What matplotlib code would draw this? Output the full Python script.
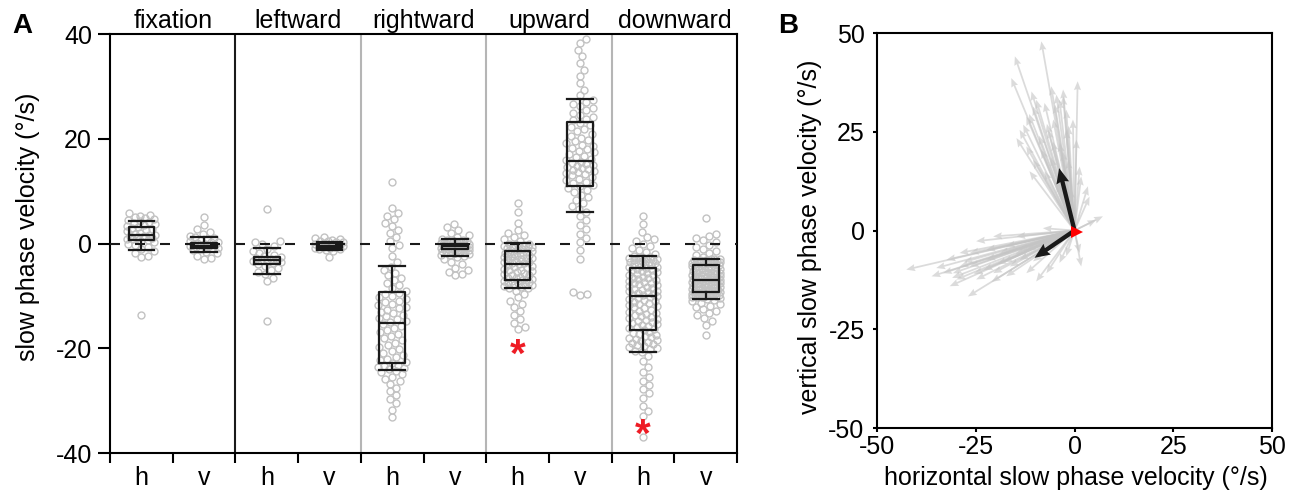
import numpy as np
import matplotlib
matplotlib.use("Agg")
import matplotlib.pyplot as plt

plt.rcParams['font.family'] = ['Liberation Sans', 'DejaVu Sans']
plt.rcParams['axes.unicode_minus'] = False

conditions = ['fixation', 'leftward', 'rightward', 'upward', 'downward']
components = ['h', 'v']

# slow phase velocities (deg/s), one list per condition and component
fix_h = [5.8, 5.5, 5.3, 5.1, 4.9, 4.7, 4.5, 4.3, 4.1, 3.9, 3.7, 3.5, 3.3, 3.1, 2.9,
         2.7, 2.5, 2.3, 2.1, 1.9, 1.7, 1.6, 1.5, 1.4, 1.2, 1.0, 0.9, 0.8, 0.6, 0.4,
         0.2, 0.0, -0.3, -0.6, -1.0, -1.4, -1.9, -2.3, -2.6, -13.7]
fix_v = [5.0, 3.6, 2.7, 2.2, 1.8, 1.5, 1.2, 1.0, 0.8, 0.6, 0.4, 0.3, 0.2, 0.1, 0.0,
         -0.1, -0.2, -0.3, -0.4, -0.5, -0.6, -0.7, -0.8, -0.9, -1.1, -1.3, -1.6,
         -1.9, -2.4, -2.8, -2.9]
left_h = [6.6, 0.4, 0.2, 0.0, -0.5, -1.0, -1.4, -1.8, -2.1, -2.3, -2.5, -2.7, -2.9,
          -3.0, -3.1, -3.2, -3.4, -3.6, -3.8, -4.0, -4.3, -4.6, -5.0, -5.4, -5.9,
          -6.5, -7.2, -14.7]
left_v = [1.2, 1.0, 0.8, 0.7, 0.5, 0.4, 0.3, 0.2, 0.1, 0.0, -0.1, -0.2, -0.3, -0.4,
          -0.5, -0.6, -0.7, -0.8, -0.9, -1.0, -1.1, -1.3, -1.5, -2.6]
right_h = [11.7, 6.7, 5.8, 5.2, 4.6, 3.9, 3.3, 2.6, 2.0, 1.3, 0.5, -0.2, -0.8, -2.3, -3.6,
           -4.4, -5.0, -5.6, -6.1, -6.6, -7.0, -7.5, -8.0, -8.5, -9.0,
           -9.4, -9.7, -10.0, -10.3, -10.6, -10.9, -11.2, -11.5, -11.8, -12.1, -12.4,
           -12.7, -13.0, -13.3, -13.6, -13.9, -14.2, -14.5, -14.8, -15.0,
           -15.3, -15.7, -16.1, -16.5, -16.9, -17.3, -17.7, -18.1, -18.5, -18.9, -19.3,
           -19.7, -20.1, -20.5, -20.9, -21.3, -21.7, -22.0, -22.3, -22.6,
           -22.9, -23.1, -23.3, -23.5, -23.7, -23.9,
           -24.3, -24.6, -25.0, -25.4, -25.8, -26.3, -26.8, -27.5, -28.2, -28.9, -29.6,
           -30.5, -31.7, -33.2]
right_v = [3.8, 3.2, 2.6, 2.1, 1.6, 1.2, 0.9, 0.7, 0.6, 0.5, 0.4, 0.3, 0.2, 0.1, 0.05,
           0.0, -0.05, -0.1, -0.15, -0.2, -0.25, -0.3, -0.35, -0.4, -0.45, -0.5, -0.55,
           -0.6, -0.65, -0.7, -0.75, -0.8, -0.85, -0.9, -0.95, -1.0, -1.05, -1.1, -1.2,
           -1.3, -1.4, -1.5, -1.6, -1.7, -1.8, -1.9, -2.0, -2.1, -2.2, -2.3, -2.6, -3.0,
           -3.5, -4.0, -4.6, -5.0, -5.4, -5.8, -6.1]
up_h = [7.7, 6.0, 4.0, 2.6, 2.0, 1.6, 1.2, 0.8, 0.4,
        0.0, -0.1, -0.2, -0.3, -0.4, -0.5, -0.6, -0.7, -0.8, -0.9, -1.0, -1.2, -1.4,
        -1.6, -1.7, -1.8, -1.9, -2.0, -2.1, -2.2, -2.3, -2.4, -2.5, -2.6, -2.7, -2.8,
        -3.0, -3.2, -3.3, -3.5, -3.6, -3.7, -3.8,
        -4.0, -4.1, -4.3, -4.5, -4.6, -4.8, -5.0, -5.1, -5.3, -5.5, -5.6, -5.8, -6.0,
        -6.1, -6.3, -6.5, -6.6, -6.8, -6.9, -7.0,
        -7.1, -7.2, -7.4, -7.5, -7.6, -7.8, -7.9, -8.0, -8.1, -8.3, -8.4, -8.5,
        -9.0, -9.6, -10.3, -11.0, -11.6, -12.2, -12.9, -13.6, -14.4, -15.2, -16.0, -16.4]
up_v = [39.0, 38.3, 37.0, 35.8, 34.5, 33.2, 32.0, 30.6, 29.4, 28.3,
        27.4, 27.0, 26.6, 26.2, 25.8, 25.4, 25.0, 24.6, 24.2, 23.8, 23.5,
        23.0, 22.6, 22.2, 21.8, 21.4, 21.0, 20.6, 20.2, 19.8, 19.5, 19.2, 18.9, 18.6,
        18.3, 18.0, 17.7, 17.4, 17.1, 16.8, 16.5, 16.2, 15.9,
        15.6, 15.4, 15.2, 15.0, 14.8, 14.6, 14.4, 14.2, 14.0, 13.8, 13.6, 13.4, 13.2,
        13.0, 12.7, 12.4, 12.1, 11.8, 11.5, 11.1, 10.9,
        10.6, 10.2, 9.8, 9.3, 8.8, 8.3, 7.8, 7.2, 6.6, 6.1,
        5.2, 4.4, 3.6, 2.8, 1.9, 1.1, 0.3, -1.3, -2.9, -9.3, -9.6, -9.9]
down_h = [5.3, 3.8, 2.2, 1.2, 0.8, 0.4, 0.0, -0.4, -0.8, -1.2, -1.6, -2.0, -2.3,
          -2.5, -2.6, -2.7, -2.8, -2.9, -3.0, -3.1, -3.2, -3.3, -3.5, -3.6, -3.7, -3.8,
          -3.9, -4.0, -4.1, -4.2, -4.4, -4.5, -4.6,
          -4.8, -5.0, -5.1, -5.3, -5.5, -5.6, -5.8, -6.0, -6.1, -6.3, -6.5, -6.6, -6.8,
          -7.0, -7.1, -7.3, -7.5, -7.6, -7.8, -8.0, -8.1, -8.3, -8.5, -8.6, -8.8, -9.0,
          -9.1, -9.3, -9.5, -9.6, -9.8, -9.9, -10.0,
          -10.2, -10.4, -10.6, -10.8, -11.0, -11.2, -11.4, -11.6, -11.8, -12.0, -12.2,
          -12.4, -12.6, -12.8, -13.0, -13.2, -13.4, -13.6, -13.8, -14.0, -14.2, -14.4,
          -14.6, -14.8, -15.0, -15.2, -15.4, -15.6, -15.8, -16.0, -16.2, -16.4, -16.6,
          -16.8, -17.0, -17.2, -17.4, -17.6, -17.8, -18.0, -18.2, -18.4, -18.6, -18.8,
          -19.0, -19.2, -19.4, -19.6, -19.8, -20.0, -20.2, -20.5, -20.8,
          -21.5, -22.5, -23.5, -24.5, -25.5, -26.3, -27.0, -27.8, -28.6, -29.5, -31.0,
          -32.0, -33.0, -37.0]
down_v = [4.9, 1.9, 1.4, 1.0, 0.6, 0.2, -0.2, -0.6, -1.0, -1.4, -1.8, -2.2, -2.6,
          -2.9, -3.0, -3.0, -3.1, -3.2, -3.2, -3.3, -3.4, -3.4, -3.5, -3.6, -3.6, -3.7,
          -3.8, -3.8, -3.9, -3.9, -4.0, -4.0, -4.1,
          -4.2, -4.3, -4.4, -4.5, -4.6, -4.7, -4.8, -4.9, -5.0, -5.1, -5.2, -5.3, -5.4,
          -5.5, -5.6, -5.6, -5.7, -5.8, -5.9, -6.0, -6.0, -6.1, -6.2, -6.3, -6.4, -6.4,
          -6.5, -6.6, -6.7, -6.7, -6.8, -6.8, -6.9,
          -7.0, -7.1, -7.1, -7.2, -7.3, -7.4, -7.4, -7.5, -7.6, -7.7, -7.7, -7.8, -7.9,
          -8.0, -8.0, -8.1, -8.2, -8.3, -8.3, -8.4, -8.5, -8.6, -8.6, -8.7, -8.8, -8.9,
          -8.9, -9.0, -9.1, -9.1, -9.2, -9.2, -9.3,
          -9.4, -9.4, -9.5, -9.5, -9.6, -9.6, -9.7, -9.7, -9.8, -9.8, -9.9, -9.9, -10.0,
          -10.0, -10.1, -10.2, -10.2, -10.3, -10.4, -10.5,
          -10.7, -11.0, -11.3, -11.6, -11.9, -12.2, -12.5, -12.8, -13.2, -13.7, -14.2,
          -14.7, -15.5, -17.5]

groups = [fix_h, fix_v, left_h, left_v, right_h, right_v, up_h, up_v, down_h, down_v]

# box summaries (whiskers at percentiles, not 1.5 IQR)
med = [1.6, -0.4, -3.1, -0.4, -15.1, -0.5, -3.9, 15.8, -10.1, -6.9]
q1 = [0.7, -0.8, -3.9, -0.8, -22.8, -1.1, -6.9, 10.9, -16.6, -9.3]
q3 = [3.2, 0.1, -2.6, 0.1, -9.3, -0.1, -1.5, 23.2, -4.7, -4.1]
whislo = [-1.2, -1.7, -5.9, -1.2, -24.1, -2.4, -8.5, 6.0, -20.8, -10.5]
whishi = [4.3, 1.2, -0.8, 0.3, -4.2, 0.8, 0.1, 27.6, -2.4, -2.9]

# significant differences from fixation
sig_x = [6.5, 8.5]
sig_y = [-19.1, -34.4]

# per-trial velocity vectors (h, v) for the upward and the downward trials
vec_up_h = [-8.4, -15.1, -16.0, -10.9, 0.8, -2.9, -3.8, -5.0, -7.6, -13.0, -14.7, -12.2,
            -10.5, -11.4, -7.6, 1.3, 1.7, 3.4, 3.8, -0.4, -2.1, -5.9, -9.7, -12.2, -6.7,
            -3.8, -8.4, -5.4, 0.5, -1.6, -2.9, -4.6, -10.5, -13.9, -2.1, 7.2, 5.5, 1.7,
            1.3, -6.0, -9.0, -4.5, -1.0, -3.0, -7.0, -11.5, -5.5, -1.5]
vec_up_v = [47.9, 44.1, 38.6, 35.2, 37.8, 35.7, 33.1, 31.9, 32.3, 26.8, 23.4, 21.3,
            17.9, 15.0, 15.0, 16.2, 13.7, 11.2, 8.6, 28.1, 30.6, 36.5, 33.1, 28.9, 25.5,
            22.2, 20.5, 28.1, 23.0, 17.9, 34.0, 34.4, 31.4, 25.5, 25.5, 3.6, 2.7, -9.1,
            -5.7, 18.5, 24.0, 12.0, 10.5, 20.0, 27.0, 29.5, 22.5, 26.5]
vec_dn_h = [-42.6, -36.2, -31.6, -27.0, -29.9, -29.1, -24.9, -20.6, -14.7, -8.0, -9.7,
            -7.1, -3.8, -2.1, -33.3, -32.4, -26.5, -22.3, -18.9, -16.4, -13.9, -20.6,
            -24.9, -12.2, -17.3, -22.3, -29.1, -35.0, -12.2, -7.1, -17.3, -30.8, -26.5,
            -4.6, -19.5, -15.0, -10.5, -25.5, -28.0, -21.0, -18.0, -23.0, -14.0, -31.0]
vec_dn_v = [-9.9, -11.6, -14.1, -16.7, -12.4, -5.7, -2.7, -1.5, -1.5, 0.6, -12.9,
            -10.8, -8.2, -6.5, -10.8, -7.4, -9.1, -7.4, -5.7, -9.1, -7.4, -10.8, -12.4,
            -10.8, -4.0, -4.9, -9.1, -9.5, -4.9, -4.9, -11.6, -10.8, -5.7, -2.3, -8.5,
            -6.0, -7.8, -11.0, -8.0, -13.0, -8.0, -10.0, -5.0, -12.0]


def swarm(vals, xpx, ypx, d=7.0, half=14.0):
    # beeswarm offsets (data units) for one column
    ys = np.asarray(vals, dtype=float) * ypx
    cands = [0.0]
    for k in range(1, int(half) + 1):
        cands += [k, -k]
    xs = np.zeros(len(ys))
    placed = []
    for i in np.argsort(ys):
        y = ys[i]
        near = [(px, py) for px, py in placed if abs(py - y) < d]
        best, bestgap = 0.0, -1.0
        for c in cands:
            gap = min((np.hypot(c - px, y - py) for px, py in near), default=np.inf)
            if gap >= d:
                best = c
                break
            if gap > bestgap:
                best, bestgap = c, gap
        xs[i] = best
        placed.append((best, y))
    return xs / xpx


fig = plt.figure(figsize=(12.96, 4.93), dpi=100)
axA = fig.add_axes([0.0849, 0.0811, 0.4838, 0.8499])
axB = fig.add_axes([0.6767, 0.1318, 0.3048, 0.8012])

xpx = 0.4838 * 1296 / 10
ypx = 0.8499 * 493 / 80
pos = np.arange(10) + 0.5

# ---- A: box plots with individual points
for p, g in zip(pos, groups):
    axA.plot(p + swarm(g, xpx, ypx), g, 'o', mfc='none', mec='#c2c2c2',
             ms=5.0, mew=1.0, zorder=2)

axA.axvline(2, color='#1a1a1a', lw=1.5, zorder=1)
for xs in [4, 6, 8]:
    axA.axvline(xs, color='#b5b5b5', lw=1.5, zorder=1)
axA.axhline(0, color='#1a1a1a', lw=1.5, ls=(0, (4.8, 7.2)), zorder=3)

stats = [dict(med=m, q1=a, q3=b, whislo=lo, whishi=hi, fliers=[])
         for m, a, b, lo, hi in zip(med, q1, q3, whislo, whishi)]
lp = dict(color='#1a1a1a', lw=1.6)
axA.bxp(stats, positions=pos, widths=0.41, capwidths=0.41, showfliers=False,
        boxprops=lp, whiskerprops=lp, capprops=lp, medianprops=lp,
        manage_ticks=False, zorder=4)

for x, y in zip(sig_x, sig_y):
    axA.annotate('*', xy=(x, y), xytext=(0, -16.5), textcoords='offset points',
                 ha='center', va='baseline', color='#ee1c25', fontsize=29,
                 fontweight='bold', zorder=5)

axA.set_xlim(0, 10)
axA.set_ylim(-40, 40)
axA.set_yticks([-40, -20, 0, 20, 40])
axA.set_xticks(range(11))
axA.set_xticklabels([])
axA.set_xticks(pos, minor=True)
axA.set_xticklabels(components * 5, minor=True)
axA.tick_params(axis='x', which='major', direction='out', length=7, width=1.5)
axA.tick_params(axis='x', which='minor', length=0, pad=9, labelsize=18)
axA.tick_params(axis='y', direction='out', length=9, width=1.5, labelsize=18, pad=4)
for s in axA.spines.values():
    s.set_linewidth(1.5)

xform = axA.get_xaxis_transform()
for i, c in enumerate(conditions):
    axA.text(2 * i + 1, 1.014, c, transform=xform, ha='center', va='baseline',
             fontsize=18)

fig.text(28 / 1296, 1 - 227 / 493, 'slow phase velocity (°/s)', rotation=90,
         ha='center', va='center', fontsize=18)
fig.text(12 / 1296, 1 - 33 / 493, 'A', fontsize=20, fontweight='bold', va='baseline')

# ---- B: direction of slow phase velocity per trial
u = vec_up_h + vec_dn_h
v = vec_up_v + vec_dn_v
axB.quiver(np.zeros(len(u)), np.zeros(len(u)), u, v, angles='xy', scale_units='xy',
           scale=1, color='#c4c4c4', alpha=0.6, width=0.0045, headwidth=4,
           headlength=5, headaxislength=4.5, zorder=2)
axB.quiver([0, 0], [0, 0], [med[6], med[8]], [med[7], med[9]], angles='xy',
           scale_units='xy', scale=1, color='#1a1a1a', width=0.011, headwidth=3,
           headlength=3.5, headaxislength=3.2, zorder=3)
axB.plot(0.7, -0.4, marker='>', color='#ff0000', ms=8, mew=0, zorder=4)

axB.set_xlim(-50, 50)
axB.set_ylim(-50, 50)
axB.set_xticks([-50, -25, 0, 25, 50])
axB.set_yticks([-50, -25, 0, 25, 50])
axB.tick_params(axis='x', direction='out', length=3, width=1.5, labelsize=18, pad=2)
axB.tick_params(axis='y', direction='out', length=3, width=1.5, labelsize=18, pad=6)
for s in axB.spines.values():
    s.set_linewidth(1.5)

fig.text(1076 / 1296, 1 - 478 / 493, 'horizontal slow phase velocity (°/s)',
         ha='center', va='center', fontsize=18)
fig.text(810 / 1296, 1 - 237 / 493, 'vertical slow phase velocity (°/s)', rotation=90,
         ha='center', va='center', fontsize=18)
fig.text(778 / 1296, 1 - 33 / 493, 'B', fontsize=20, fontweight='bold', va='baseline')

fig.savefig('out.png', dpi=100)
